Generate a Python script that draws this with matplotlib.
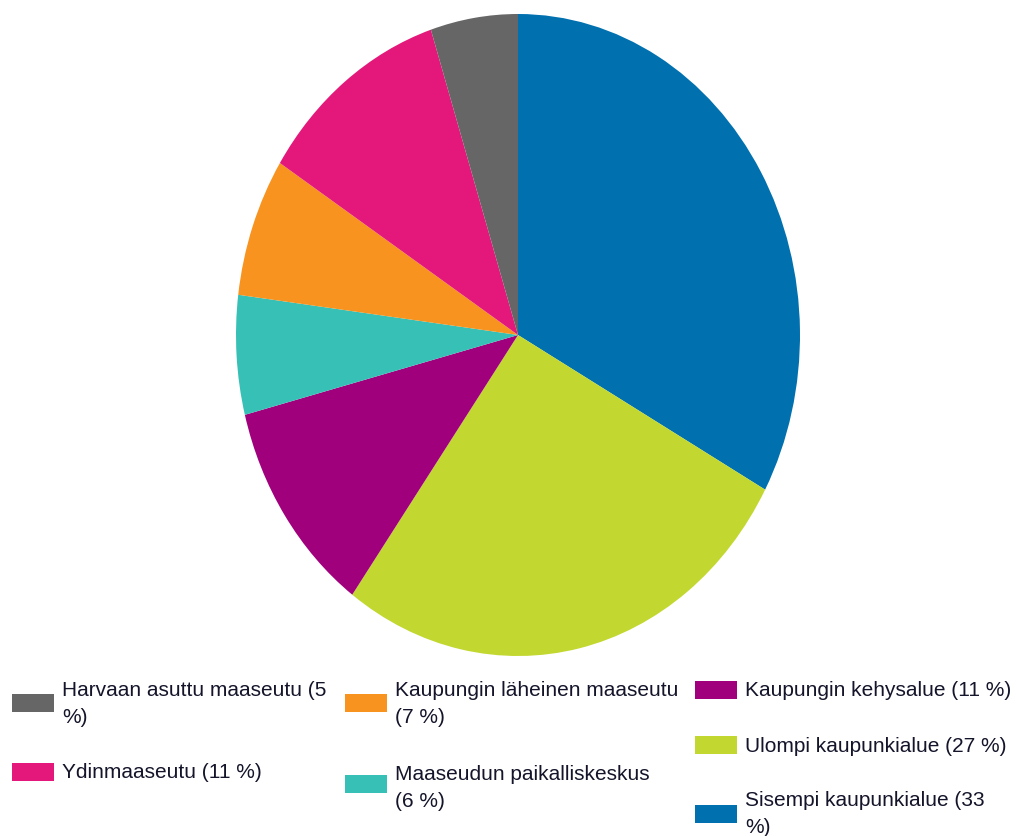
import matplotlib
matplotlib.use("Agg")
import matplotlib.pyplot as plt
from matplotlib.patches import Rectangle

labels = ["Sisempi kaupunkialue (33\n%)", "Ulompi kaupunkialue (27 %)", "Kaupungin kehysalue (11 %)",
          "Maaseudun paikalliskeskus\n(6 %)", "Kaupungin läheinen maaseutu\n(7 %)",
          "Ydinmaaseutu (11 %)", "Harvaan asuttu maaseutu (5\n%)"]
values = [33, 27, 11, 6, 7, 11, 5]
colors = ["#0070AF", "#C2D72F", "#A1007D", "#36C0B6", "#F7931E", "#E3187A", "#666666"]

W, H = 1017, 837
fig = plt.figure(figsize=(W / 100, H / 100), dpi=100)
fig.patch.set_facecolor("white")

# pie axes (elliptical pie)
cx, cy, rx, ry = 518, 336, 282, 321
ax = fig.add_axes([(cx - rx) / W, 1 - (cy + ry) / H, 2 * rx / W, 2 * ry / H])
ax.pie(values, colors=colors, startangle=90, counterclock=False,
       wedgeprops=dict(linewidth=0))
ax.set_aspect("auto")
ax.set_xlim(-1, 1)
ax.set_ylim(-1, 1)
ax.axis("off")

# legend: (index, patch_x, patch_center_y, text_x, text_center_y)
legend_pos = [
    (6, 12, 704, 62, 704),
    (5, 12, 773, 62, 773),
    (4, 345, 704, 395, 704),
    (3, 345, 785, 395, 788),
    (2, 695, 691, 745, 691),
    (1, 695, 746, 745, 747),
    (0, 695, 815, 745, 814),
]
for i, px, pcy, tx, tcy in legend_pos:
    fig.add_artist(Rectangle((px / W, 1 - (pcy + 9) / H), 42 / W, 18 / H,
                             transform=fig.transFigure, facecolor=colors[i],
                             edgecolor="none"))
    fig.text(tx / W, 1 - tcy / H, labels[i], ha="left", va="center",
             fontsize=15, family="Liberation Sans", color="#14142a",
             linespacing=1.55)

fig.savefig("out.png", dpi=100, facecolor="white")
